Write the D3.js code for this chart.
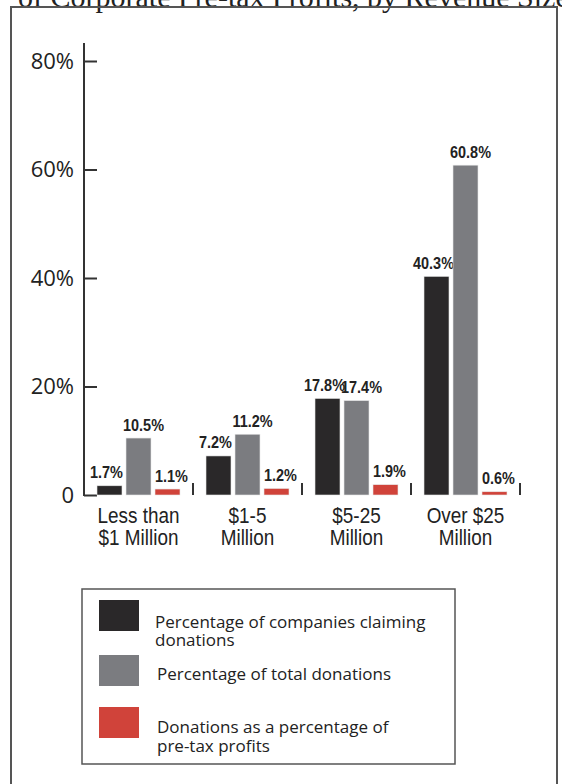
<!DOCTYPE html>
<html>
<head>
<meta charset="utf-8">
<script src="https://cdn.jsdelivr.net/npm/d3@7"></script>
<style>
  html, body { margin: 0; padding: 0; background: #fff; }
  svg { display: block; }
</style>
</head>
<body>
<svg id="chart" width="562" height="784"></svg>
<script>
// Revenue-size groups (two-line category labels)
const categories = [
  ["Less than", "$1 Million"],
  ["$1-5", "Million"],
  ["$5-25", "Million"],
  ["Over $25", "Million"]
];
// Series names shown in the legend
const seriesNames = [
  ["Percentage of companies claiming", "donations"],
  ["Percentage of  total donations"],
  ["Donations as a percentage of", "pre-tax profits"]
];
// Values (percent) per series, one per category
const companiesClaiming = [1.7, 7.2, 17.8, 40.3];
const totalDonations    = [10.5, 11.2, 17.4, 60.8];
const pctOfProfits      = [1.1, 1.2, 1.9, 0.6];
// Y-axis ticks
const yTicks = [0, 20, 40, 60, 80];
const yTickLabels = ["0", "20%", "40%", "60%", "80%"];

const series = [companiesClaiming, totalDonations, pctOfProfits];
const colors = ["#2a2829", "#7b7c80", "#d0433a"];
const labelShift = [-3, 5, 4];

const svg = d3.select("#chart");

// Title line running off the top edge
svg.append("text")
  .attr("x", 18).attr("y", 7)
  .attr("font-family", "'Liberation Serif', 'Times New Roman', serif")
  .attr("font-size", 30)
  .attr("fill", "#222")
  .text("of Corporate Pre-tax Profits, by Revenue Size");

// Outer frame
svg.append("rect")
  .attr("x", 11).attr("y", 7)
  .attr("width", 546).attr("height", 820)
  .attr("fill", "none")
  .attr("stroke", "#555")
  .attr("stroke-width", 2);

const x0 = 84, bandW = 109;
const x = d3.scaleBand()
  .domain(d3.range(categories.length))
  .range([x0, x0 + bandW * categories.length])
  .paddingInner(0).paddingOuter(0);
const xs = d3.scaleBand()
  .domain(d3.range(series.length))
  .range([13, bandW - 13])
  .paddingInner(4 / 29).paddingOuter(0);
const y = d3.scaleLinear().domain([0, 80]).range([495, 61]);

// Y axis with inward ticks
const yAxis = d3.axisLeft(y)
  .tickValues(yTicks)
  .tickFormat((d, i) => yTickLabels[i])
  .tickSizeInner(-13)
  .tickSizeOuter(0)
  .tickPadding(10);
const gy = svg.append("g").attr("transform", `translate(${x0},0)`).call(yAxis);
gy.select(".domain").remove();
gy.selectAll(".tick line").attr("stroke", "#333").attr("stroke-width", 2);
gy.selectAll(".tick text")
  .attr("font-family", "'Open Sans', sans-serif")
  .attr("font-size", 22)
  .attr("fill", "#222");
svg.append("line")
  .attr("x1", x0).attr("x2", x0)
  .attr("y1", y(80) - 18).attr("y2", y(0) + 1)
  .attr("stroke", "#333").attr("stroke-width", 2);

// Group separators on the baseline
svg.selectAll("line.sep")
  .data(d3.range(1, categories.length + 1))
  .join("line")
  .attr("class", "sep")
  .attr("x1", i => x0 + bandW * i).attr("x2", i => x0 + bandW * i)
  .attr("y1", y(0) - 12).attr("y2", y(0))
  .attr("stroke", "#333").attr("stroke-width", 2);

// Bars and value labels
const groups = svg.selectAll("g.grp")
  .data(categories.map((c, i) => i))
  .join("g")
  .attr("class", "grp")
  .attr("transform", i => `translate(${x(i)},0)`);

groups.each(function(ci) {
  const g = d3.select(this);
  series.forEach((vals, si) => {
    const v = vals[ci];
    g.append("rect")
      .attr("x", xs(si)).attr("width", xs.bandwidth())
      .attr("y", y(v)).attr("height", y(0) - y(v))
      .attr("fill", colors[si])
      .attr("stroke", "#e6e6e6").attr("stroke-width", 0.6);
    const lx = xs(si) + xs.bandwidth() / 2 + labelShift[si];
    g.append("text")
      .attr("transform", `translate(${lx},${y(v) - 7.5}) scale(0.85,1)`)
      .attr("text-anchor", "middle")
      .attr("font-family", "'Liberation Sans', Arial, sans-serif")
      .attr("font-weight", "bold")
      .attr("font-size", 17)
      .attr("fill", "#222")
      .text(v.toFixed(1) + "%");
  });
});

// Category labels (condensed)
categories.forEach((lines, ci) => {
  const cx = x(ci) + bandW / 2;
  const t = svg.append("text")
    .attr("transform", `translate(${cx},523) scale(0.86,1)`)
    .attr("text-anchor", "middle")
    .attr("font-family", "'Liberation Sans', Arial, sans-serif")
    .attr("font-size", 22)
    .attr("fill", "#222");
  lines.forEach((ln, li) => {
    t.append("tspan").attr("x", 0).attr("y", li * 22).text(ln);
  });
});

// Legend
const legend = svg.append("g");
legend.append("rect")
  .attr("x", 82).attr("y", 589)
  .attr("width", 373).attr("height", 175)
  .attr("fill", "none").attr("stroke", "#555").attr("stroke-width", 1.5);
const swY = [600, 655, 707];
const txtY = [[628, 646], [680], [733, 752]];
const txtX = [155, 157, 157];
seriesNames.forEach((lines, si) => {
  legend.append("rect")
    .attr("x", 99).attr("y", swY[si])
    .attr("width", 40).attr("height", 31)
    .attr("fill", colors[si]);
  lines.forEach((ln, li) => {
    legend.append("text")
      .attr("x", txtX[si]).attr("y", txtY[si][li])
      .attr("font-family", "'Open Sans', sans-serif")
      .attr("font-size", 17)
      .attr("fill", "#222")
      .text(ln);
  });
});
</script>
</body>
</html>
